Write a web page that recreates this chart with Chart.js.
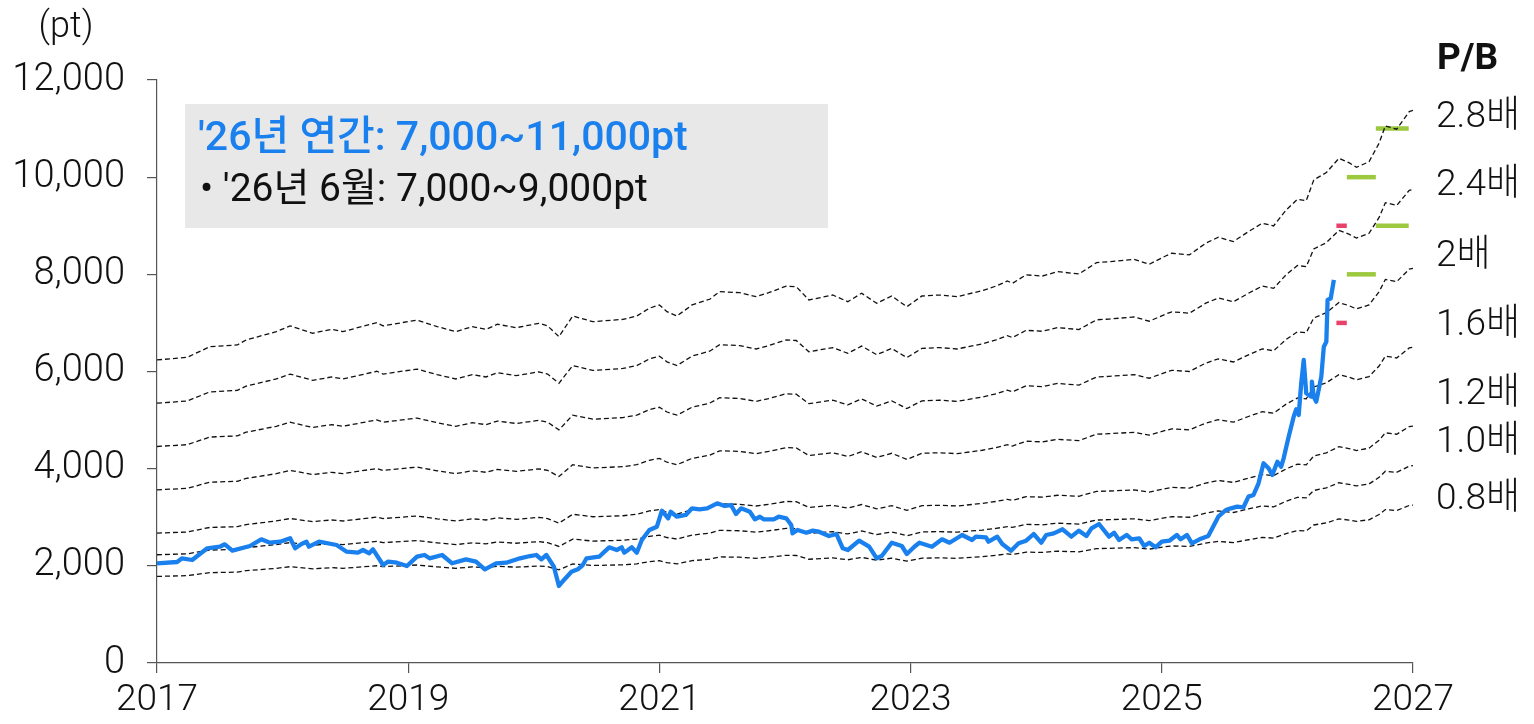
<!DOCTYPE html>
<html><head><meta charset="utf-8">
<script src="https://cdn.jsdelivr.net/npm/chart.js@4.4.1/dist/chart.umd.min.js"></script>
<style>html,body{margin:0;padding:0;background:#fff;}canvas{display:block;}</style>
</head><body>
<canvas id="c" width="1534" height="724"></canvas>
<script>
// ---- data ----
const kospiX = [2017.00,2017.16,2017.20,2017.28,2017.40,2017.50,2017.54,2017.60,2017.74,2017.83,2017.90,2017.98,
2018.06,2018.10,2018.15,2018.19,2018.21,2018.29,2018.43,2018.51,2018.60,2018.64,2018.69,2018.72,2018.80,2018.84,2018.91,2018.99,
2019.07,2019.13,2019.17,2019.27,2019.35,2019.46,2019.54,2019.61,2019.70,2019.78,2019.89,2019.97,
2020.02,2020.06,2020.10,2020.16,2020.20,2020.24,2020.30,2020.35,2020.39,2020.42,2020.52,2020.60,2020.66,2020.70,2020.72,2020.78,2020.82,2020.86,2020.92,2020.98,
2021.02,2021.07,2021.09,2021.14,2021.21,2021.26,2021.32,2021.38,2021.46,2021.52,2021.57,2021.61,2021.65,2021.72,2021.76,2021.80,2021.83,2021.91,2021.95,
2022.01,2022.05,2022.06,2022.10,2022.17,2022.22,2022.27,2022.35,2022.41,2022.46,2022.50,2022.59,2022.67,2022.73,2022.77,2022.85,2022.93,2022.97,
2023.03,2023.07,2023.17,2023.25,2023.31,2023.41,2023.49,2023.52,2023.60,2023.62,2023.69,2023.73,2023.80,2023.86,2023.92,2023.98,
2024.04,2024.08,2024.14,2024.21,2024.28,2024.34,2024.40,2024.44,2024.50,2024.58,2024.62,2024.66,2024.72,2024.76,2024.82,2024.86,2024.90,2024.95,
2025.00,2025.06,2025.12,2025.15,2025.20,2025.24,2025.30,2025.37,2025.45,2025.51,2025.55,2025.60,2025.65,2025.69,2025.73,2025.77,2025.81,2025.85,2025.88,2025.92,2025.95,2025.97,
2026.01,2026.05,2026.07,2026.09,2026.11,2026.13,2026.15,2026.19,2026.195,2026.21,2026.23,2026.27,2026.29,2026.31,2026.32,2026.345,2026.37];
const kospiY = [2052,2079,2155,2120,2361,2394,2443,2312,2408,2546,2476,2497,
2567,2361,2450,2497,2394,2497,2429,2291,2271,2326,2258,2340,2017,2086,2065,1997,
2188,2223,2155,2223,2052,2134,2086,1929,2052,2065,2155,2202,
2223,2134,2223,1982,1585,1709,1879,1929,2017,2155,2188,2381,2326,2381,2271,2381,2271,2532,2738,2806,
3135,2978,3114,3011,3047,3184,3164,3184,3287,3232,3252,3067,3184,3114,2958,3011,2958,2958,3011,
2978,2841,2669,2738,2682,2724,2703,2614,2655,2361,2326,2518,2394,2155,2202,2476,2408,2244,
2394,2476,2394,2546,2476,2635,2532,2600,2587,2497,2600,2450,2312,2464,2518,2655,
2476,2635,2669,2752,2600,2724,2614,2772,2861,2600,2682,2532,2635,2546,2567,2408,2476,2381,
2497,2518,2635,2546,2635,2464,2546,2614,3011,3149,3184,3218,3205,3424,3458,3699,4111,4008,3870,4144,4041,4214,
4658,5070,5222,5105,5758,6237,5552,5482,5792,5482,5379,5894,6511,6614,7472,7507,7884];

const bpsX = [2017.00,2017.24,2017.42,2017.64,2017.71,2017.95,2018.06,2018.24,2018.39,2018.48,2018.75,2018.80,
2019.07,2019.23,2019.38,2019.51,2019.62,2019.71,2019.86,2020.04,2020.11,2020.20,2020.31,2020.47,2020.71,2020.82,2020.92,
2021.00,2021.06,2021.14,2021.26,2021.40,2021.48,2021.64,2021.77,2021.87,2022.01,2022.09,2022.19,2022.38,2022.50,2022.61,2022.73,2022.85,2022.97,
2023.09,2023.23,2023.37,2023.57,2023.68,2023.77,2023.81,2023.92,2024.05,2024.17,2024.34,2024.48,2024.58,2024.78,2024.90,
2025.03,2025.08,2025.22,2025.35,2025.45,2025.57,2025.69,2025.80,2025.89,2025.99,2026.08,2026.15,2026.21,2026.31,2026.41,2026.49,2026.55,2026.65,2026.73,2026.78,2026.87,2026.97,2027.00];
const bpsY = [2228,2247,2325,2338,2375,2436,2478,2424,2453,2436,2502,2478,
2521,2473,2436,2473,2453,2490,2465,2497,2478,2399,2551,2509,2526,2551,2608,
2632,2583,2551,2632,2674,2730,2722,2693,2722,2771,2766,2669,2705,2656,2718,2644,2698,2619,
2698,2705,2693,2737,2771,2808,2791,2853,2845,2877,2860,2943,2950,2968,2931,
2992,3012,3000,3086,3130,3098,3171,3233,3213,3330,3409,3399,3551,3605,3710,3678,3644,3685,3821,3948,3924,4053,4062];

const pbMultiples = [2.8, 2.4, 2.0, 1.6, 1.2, 1.0, 0.8];
const pbLabels = ['2.8배','2.4배','2배','1.6배','1.2배','1.0배','0.8배'];

const juneX = [2026.39, 2026.473];  const juneRange = [7000, 9000];
const q3X   = [2026.473, 2026.704]; const q3Range   = [8000, 10000];
const q4X   = [2026.704, 2026.966]; const q4Range   = [9000, 11000];

const xTicks = [2017, 2019, 2021, 2023, 2025, 2027];
const yTicks = [0, 2000, 4000, 6000, 8000, 10000, 12000];

const boxLine1 = "'26년 연간: 7,000~11,000pt";
const boxLine2 = "• '26년 6월: 7,000~9,000pt";

// ---- build ----
const FONT = "Roboto, 'Noto Sans CJK KR', sans-serif";
const BLUE = '#1A80EE', GREEN = '#9CC93E', RED = '#E8426A';
const zip = (xs, ys) => xs.map((x, i) => ({x, y: ys[i]}));

const datasets = [];
datasets.push({data: zip(kospiX, kospiY), borderColor: BLUE, borderWidth: 4.3, pointRadius: 0, tension: 0, borderJoinStyle: 'round'});
pbMultiples.forEach(m => {
  datasets.push({data: bpsX.map((x, i) => ({x, y: bpsY[i] * m})), borderColor: '#111', borderWidth: 1.3,
    borderDash: [5, 3], pointRadius: 0, tension: 0});
});
function seg(xs, v, color) {
  datasets.push({data: [{x: xs[0], y: v}, {x: xs[1], y: v}], borderColor: color, borderWidth: 4.5,
    pointRadius: 0, borderCapStyle: 'butt'});
}
juneRange.forEach(v => seg(juneX, v, RED));
q3Range.forEach(v => seg(q3X, v, GREEN));
q4Range.forEach(v => seg(q4X, v, GREEN));

const textPlugin = {
  id: 'texts',
  beforeDatasetsDraw(chart) {
    const ctx = chart.ctx; const a = chart.chartArea;
    ctx.save();
    ctx.fillStyle = '#E8E8E8';
    ctx.fillRect(a.left + 28, a.top + 24, 643, 124);
    ctx.textBaseline = 'middle'; ctx.textAlign = 'left';
    ctx.fillStyle = BLUE; ctx.font = "500 41px " + FONT;
    ctx.fillText(boxLine1, a.left + 41, a.top + 60);
    ctx.fillStyle = '#111'; ctx.font = "400 39px " + FONT;
    ctx.fillText(boxLine2, a.left + 43, a.top + 111);
    ctx.restore();
  },
  afterDraw(chart) {
    const ctx = chart.ctx; const a = chart.chartArea;
    ctx.save();
    ctx.fillStyle = '#111'; ctx.textBaseline = 'middle';
    ctx.textAlign = 'center'; ctx.font = "300 36px " + FONT;
    ctx.fillText('(pt)', 66, 28);
    ctx.textAlign = 'left';
    ctx.font = "700 37px " + FONT;
    ctx.fillText('P/B', a.right + 24, 60);
    const ys = [118, 186, 257, 326, 395, 443, 500];
    ctx.font = "300 37px " + FONT;
    pbLabels.forEach((t, i) => ctx.fillText(t, a.right + 23, ys[i]));
    ctx.restore();
  }
};

new Chart(document.getElementById('c'), {
  type: 'line',
  data: {datasets},
  options: {
    responsive: false, animation: false, devicePixelRatio: 1,
    layout: {padding: {top: 80, right: 121, left: 0, bottom: 0}},
    plugins: {legend: {display: false}, tooltip: {enabled: false}},
    scales: {
      x: {
        type: 'linear', min: 2017, max: 2027,
        afterBuildTicks: s => { s.ticks = xTicks.map(v => ({value: v})); },
        afterFit: s => { s.height = 61; },
        ticks: {callback: v => String(v), color: '#111', font: {family: FONT, size: 37, weight: '300'}, padding: 6, maxRotation: 0},
        grid: {drawOnChartArea: false, drawTicks: true, tickLength: 10, color: '#555', lineWidth: 1.2},
        border: {display: true, color: '#555', width: 1.2}
      },
      y: {
        min: 0, max: 12000,
        afterBuildTicks: s => { s.ticks = yTicks.map(v => ({value: v})); },
        afterFit: s => { s.width = 157; },
        ticks: {callback: v => v.toLocaleString('en-US'), color: '#111', font: {family: FONT, size: 38, weight: '300'}, padding: 22},
        grid: {drawOnChartArea: false, drawTicks: true, tickLength: 10, color: '#555', lineWidth: 1.2},
        border: {display: true, color: '#555', width: 1.2}
      }
    }
  },
  plugins: [textPlugin]
});
</script>
</body></html>
